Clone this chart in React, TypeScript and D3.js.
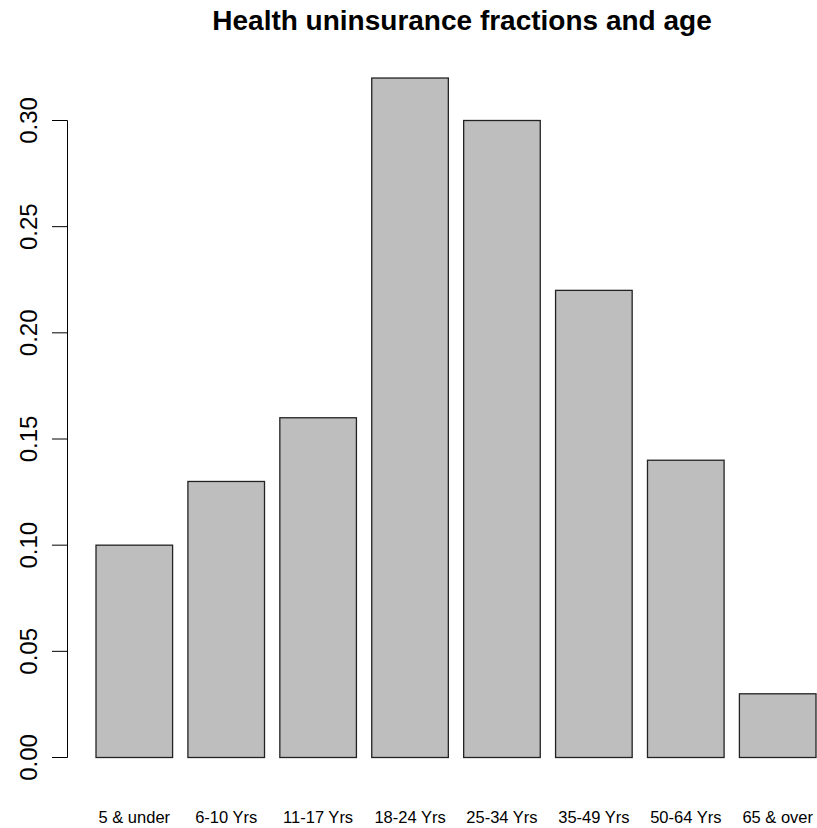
import React from "react";
import * as d3 from "d3";

const categories = ["5 & under", "6-10 Yrs", "11-17 Yrs", "18-24 Yrs", "25-34 Yrs", "35-49 Yrs", "50-64 Yrs", "65 & over"];
const values = [0.10, 0.13, 0.16, 0.32, 0.30, 0.22, 0.14, 0.03];
const yTicks = [0, 0.05, 0.1, 0.15, 0.2, 0.25, 0.3];
const title = "Health uninsurance fractions and age";

export default function App() {
  const W = 817, H = 828;
  const y = d3.scaleLinear().domain([0, 0.3]).range([757.5, 120.5]);
  const x = d3.scaleBand<string>().domain(categories).range([96, 816]).paddingInner(1 / 6).paddingOuter(0);
  const font = "Liberation Sans, Arial, Helvetica, sans-serif";
  return (
    <svg width={W} height={H} style={{ position: "absolute", left: 0, top: 0 }} fontFamily={font}>
      <rect width={W} height={H} fill="#fff" />
      <text x={462} y={30} textAnchor="middle" fontWeight="bold" fontSize={28}>{title}</text>
      {values.map((v, i) => (
        <rect key={i} x={x(categories[i])} y={y(v)} width={x.bandwidth()} height={y(0) - y(v)}
          fill="#bebebe" stroke="#222" strokeWidth={1.3} />
      ))}
      <line x1={67.5} x2={67.5} y1={y(0)} y2={y(0.3)} stroke="#000" strokeWidth={1} />
      {yTicks.map((t) => (
        <g key={t}>
          <line x1={52} x2={67.5} y1={y(t)} y2={y(t)} stroke="#000" strokeWidth={1} />
          <text transform={`translate(37,${y(t)}) rotate(-90)`} textAnchor="middle" fontSize={24}>{t.toFixed(2)}</text>
        </g>
      ))}
      {categories.map((c) => (
        <text key={c} x={(x(c) as number) + x.bandwidth() / 2} y={823} textAnchor="middle" fontSize={16.5}>{c}</text>
      ))}
    </svg>
  );
}
